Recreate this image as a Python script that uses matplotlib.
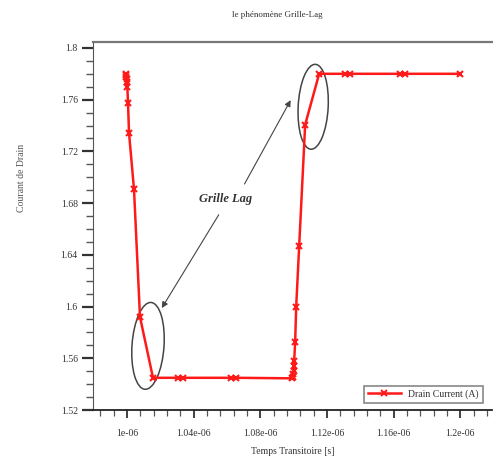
import matplotlib.pyplot as plt
import matplotlib.transforms as mtransforms
from matplotlib.patches import Ellipse
from matplotlib.ticker import MultipleLocator

# temps (en 1e-6 s) et courant de drain (A)
temps_us = [0.9992, 0.9994, 0.9996, 0.9998, 1.0000, 1.0002, 1.0006, 1.0012, 1.0042,
            1.0078, 1.0156, 1.0306, 1.0336, 1.0625, 1.0655,
            1.0990, 1.0995, 1.0998, 1.1000, 1.1002, 1.1003, 1.1009, 1.1015, 1.1033,
            1.1069, 1.1153, 1.1309, 1.1339, 1.1640, 1.1670, 1.2000]
courant = [1.7800, 1.7790, 1.7775, 1.7760, 1.7740, 1.7700, 1.7576, 1.7345, 1.6906,
           1.5919, 1.5449, 1.5449, 1.5449, 1.5449, 1.5449,
           1.5445, 1.5455, 1.5475, 1.5500, 1.5540, 1.5580, 1.5726, 1.5996, 1.6466,
           1.7407, 1.7800, 1.7800, 1.7800, 1.7800, 1.7800, 1.7800]
temps = [t * 1e-6 for t in temps_us]

x_ticks = [1.0e-6, 1.04e-6, 1.08e-6, 1.12e-6, 1.16e-6, 1.2e-6]
x_tick_labels = ["1e-06", "1.04e-06", "1.08e-06", "1.12e-06", "1.16e-06", "1.2e-06"]
y_ticks = [1.52, 1.56, 1.6, 1.64, 1.68, 1.72, 1.76, 1.8]
y_tick_labels = ["1.52", "1.56", "1.6", "1.64", "1.68", "1.72", "1.76", "1.8"]

plt.rcParams['font.family'] = ['Liberation Serif', 'DejaVu Serif']

fig = plt.figure(figsize=(4.93, 4.62), dpi=100)
ax = fig.add_axes([93 / 493, 52 / 462, 399 / 493, 368 / 462])

ax.plot(temps, courant, '-', color='#ff1a1a', lw=1.8, marker='x', ms=5, mew=1.5,
        label='Drain Current (A)')

ax.set_xlim(0.9796e-6, 1.2190e-6)
ax.set_ylim(1.52, 1.8046)
ax.set_xticks(x_ticks)
ax.set_xticklabels(x_tick_labels)
ax.set_yticks(y_ticks)
ax.set_yticklabels(y_tick_labels)
ax.xaxis.set_minor_locator(MultipleLocator(0.008e-6))
ax.yaxis.set_minor_locator(MultipleLocator(0.01))
ax.tick_params(axis='y', which='major', direction='out', length=8, width=1.6,
               color='#333333', labelsize=7, pad=3, labelcolor='#333333')
ax.tick_params(axis='y', which='minor', direction='out', length=5, width=1,
               color='#555555')
ax.tick_params(axis='x', which='major', direction='out', length=6, width=1.3,
               color='#333333', labelsize=7, pad=8, labelcolor='#333333')
ax.tick_params(axis='x', which='minor', direction='out', length=4, width=0.9,
               color='#555555')

ax.spines['right'].set_visible(False)
ax.spines['top'].set_color('#777777')
ax.spines['top'].set_linewidth(1.6)
ax.spines['left'].set_color('#555555')
ax.spines['bottom'].set_color('#222222')
ax.spines['bottom'].set_linewidth(1.3)

fig.text(277 / 493, 1 - 15 / 462, "le phénomène Grille-Lag", ha='center', va='center',
         fontsize=6.5, color='#333333')
fig.text(22 / 493, 1 - 178 / 462, "Courant de Drain", rotation=90, ha='center',
         va='center', fontsize=7, color='#555555')
fig.text(293 / 493, 1 - 452 / 462, "Temps Transitoire [s]", ha='center', va='center',
         fontsize=7, color='#333333')

# ellipses autour des transitions (taille en pouces, centre en données)
for cx, cy, w, h, ang in [(1.0126e-6, 1.5696, 0.32, 0.87, -4),
                          (1.1117e-6, 1.7545, 0.30, 0.85, -3)]:
    tr = fig.dpi_scale_trans + mtransforms.ScaledTranslation(cx, cy, ax.transData)
    ax.add_patch(Ellipse((0, 0), w, h, angle=ang, fill=False, ec='#444444', lw=1.1,
                         transform=tr))

ax.text(1.0589e-6, 1.6829, "Grille Lag", fontsize=9, fontweight='bold', style='italic',
        color='#333333', ha='center', va='center')
ax.annotate("", xy=(1.0990e-6, 1.7615), xytext=(1.0697e-6, 1.6929),
            arrowprops=dict(arrowstyle='-|>', color='#444444', lw=0.8, mutation_scale=9))
ax.annotate("", xy=(1.0200e-6, 1.5970), xytext=(1.0559e-6, 1.6728),
            arrowprops=dict(arrowstyle='-|>', color='#444444', lw=0.8, mutation_scale=9))

leg = ax.legend(loc='lower right', bbox_to_anchor=(0.977, 0.019), borderaxespad=0,
                fontsize=7, handlelength=3.4, fancybox=False, edgecolor='#888888',
                framealpha=1)
leg.get_frame().set_linewidth(1.2)
for t in leg.get_texts():
    t.set_color('#333333')

plt.savefig('out.png', dpi=100)
